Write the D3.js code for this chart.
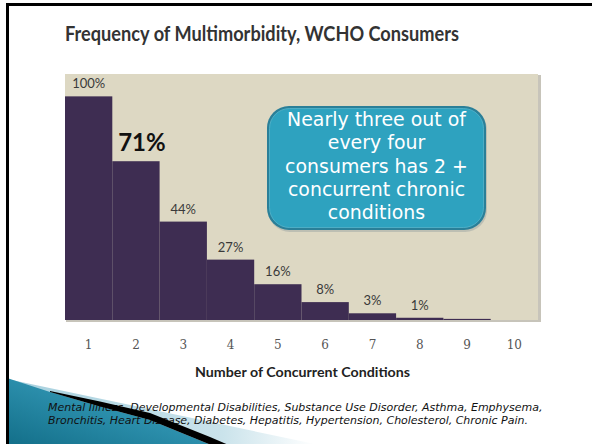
<!DOCTYPE html>
<html><head><meta charset="utf-8">
<script src="https://cdn.jsdelivr.net/npm/d3@7"></script>
<style>html,body{margin:0;padding:0;background:#fff;overflow:hidden}</style>
</head><body>
<svg id="chart" width="592" height="444"></svg>
<script>
// Share of consumers with at least N concurrent chronic conditions
const conditions = ["1", "2", "3", "4", "5", "6", "7", "8", "9", "10"];
const sharePct = [100, 71, 44, 27, 16, 8, 3, 1, 0.5, 0];
const shareLabels = ["100%", "71%", "44%", "27%", "16%", "8%", "3%", "1%", "", ""];
const titleText = "Frequency of Multimorbidity, WCHO Consumers";
const axisTitle = "Number of Concurrent Conditions";
const calloutLines = ["Nearly three out of", "every four", "consumers has 2 +", "concurrent chronic", "conditions"];
const footnoteLines = [
  "Mental Illness, Developmental Disabilities, Substance Use Disorder, Asthma, Emphysema,",
  "Bronchitis, Heart Disease, Diabetes, Hepatitis, Hypertension, Cholesterol, Chronic Pain."
];

const svg = d3.select("#chart");
const W = 592, H = 444;
const plot = {left: 65, right: 538, top: 74, bottom: 320};

// scale a text element's font size so it spans the given width
function fitWidth(sel, target) {
  const w = sel.node().getComputedTextLength();
  const fs = parseFloat(sel.attr("font-size"));
  const nfs = fs * target / w;
  sel.attr("font-size", nfs);
  return nfs;
}

const defs = svg.append("defs");
const tealGrad = defs.append("linearGradient").attr("id", "tealGrad")
  .attr("x1", "0").attr("y1", "1").attr("x2", "1").attr("y2", "0");
tealGrad.append("stop").attr("offset", "0").attr("stop-color", "#0f6a84");
tealGrad.append("stop").attr("offset", "0.5").attr("stop-color", "#2b8eab");
tealGrad.append("stop").attr("offset", "1").attr("stop-color", "#45a7c2");
const paleGrad = defs.append("linearGradient").attr("id", "paleGrad")
  .attr("x1", "0").attr("y1", "0").attr("x2", "1").attr("y2", "0");
paleGrad.append("stop").attr("offset", "0").attr("stop-color", "#a6d0de");
paleGrad.append("stop").attr("offset", "0.7").attr("stop-color", "#cae3eb");
paleGrad.append("stop").attr("offset", "1").attr("stop-color", "#ffffff");

// slide frame
svg.append("rect").attr("width", W).attr("height", H).attr("fill", "#fff");

// decorative swoosh, bottom left
const line = d3.line();
const wedgeTop = [[50, 391], [100, 401.5], [150, 413], [210, 437], [245, 452]];
const wedgeBottom = [[50, 392], [100, 406.5], [150, 420], [210, 444.5], [235, 455]];
svg.append("path").attr("d", line([[7, 379], [315, 444], [7, 444]]) + "Z")
  .attr("fill", "url(#paleGrad)");
svg.append("path").attr("d", line([[7, 378]].concat(wedgeBottom, [[7, 455]])) + "Z")
  .attr("fill", "url(#tealGrad)");

// title
svg.append("text").attr("x", 262).attr("y", 40.5)
  .attr("text-anchor", "middle").attr("font-family", "Lato").attr("font-weight", "bold")
  .attr("font-size", 20.5).attr("fill", "#333")
  .attr("textLength", 394).attr("lengthAdjust", "spacingAndGlyphs").text(titleText);

// plot background
svg.append("rect").attr("x", plot.left + 1).attr("y", plot.top + 1)
  .attr("width", plot.right - plot.left + 2).attr("height", plot.bottom - plot.top + 1)
  .attr("fill", "#c7c4ba");
svg.append("rect").attr("x", plot.left).attr("y", plot.top)
  .attr("width", plot.right - plot.left).attr("height", plot.bottom - plot.top)
  .attr("fill", "#ddd8c3");

const x = d3.scaleBand().domain(conditions).range([plot.left, plot.right]).padding(0);
const y = d3.scaleLinear().domain([0, 110]).range([plot.bottom, plot.top]);
const data = conditions.map((c, i) => ({c, v: sharePct[i], label: shareLabels[i]}));

svg.append("g").selectAll("rect").data(data).join("rect")
  .attr("x", d => x(d.c)).attr("y", d => y(d.v))
  .attr("width", x.bandwidth()).attr("height", d => plot.bottom - y(d.v))
  .attr("fill", "#3e2d52");

// value labels
svg.append("g").selectAll("text").data(data.filter(d => d.label)).join("text")
  .attr("x", d => x(d.c) + x.bandwidth() / 2 + (d.c === "2" ? 6 : 0))
  .attr("y", d => y(d.v) - (d.c === "2" ? 10 : 8))
  .attr("text-anchor", "middle").attr("font-family", "Lato")
  .attr("font-weight", d => d.c === "2" ? "bold" : "normal")
  .attr("font-size", d => d.c === "2" ? 24 : 13)
  .attr("fill", d => d.c === "2" ? "#111" : "#3a3a3a")
  .text(d => d.label);

// x axis
const xAxis = svg.append("g").attr("transform", `translate(0,${plot.bottom})`)
  .call(d3.axisBottom(x).tickSize(0).tickPadding(20));
xAxis.select(".domain").remove();
xAxis.selectAll("text").attr("font-family", "DejaVu Serif").attr("font-size", 12).attr("fill", "#555");

svg.append("text").attr("x", 302.5).attr("y", 376.5)
  .attr("text-anchor", "middle").attr("font-family", "Lato").attr("font-weight", "bold")
  .attr("font-size", 13.5).attr("fill", "#222")
  .attr("textLength", 215).attr("lengthAdjust", "spacingAndGlyphs").text(axisTitle);

// callout
const box = {x: 267, y: 106, w: 219, h: 124};
svg.append("rect").attr("x", box.x + 1).attr("y", box.y + 2).attr("width", box.w).attr("height", box.h)
  .attr("rx", 22).attr("fill", "#9ea6a3").attr("opacity", 0.5);
svg.append("rect").attr("x", box.x).attr("y", box.y).attr("width", box.w).attr("height", box.h)
  .attr("rx", 22).attr("fill", "#2a7f98");
svg.append("rect").attr("x", box.x + 2.5).attr("y", box.y + 2.5).attr("width", box.w - 5).attr("height", box.h - 5)
  .attr("rx", 20).attr("fill", "#2ea2bf").attr("stroke", "#55b5cc").attr("stroke-width", 0.8);
const cl = svg.append("g").selectAll("text").data(calloutLines).join("text")
  .attr("x", box.x + box.w / 2).attr("y", (d, i) => 126 + i * 23.3)
  .attr("text-anchor", "middle").attr("font-family", "DejaVu Sans")
  .attr("font-size", 17).attr("fill", "#fff").text(d => d);
const cfs = fitWidth(d3.select(cl.nodes()[0]), 179);
cl.attr("font-size", cfs);

// footnote
const fn = svg.append("g").selectAll("text").data(footnoteLines).join("text")
  .attr("x", 48).attr("y", (d, i) => 410.5 + i * 13)
  .attr("font-family", "DejaVu Sans").attr("font-style", "italic")
  .attr("font-size", 10).attr("fill", "#111").text(d => d);
const ffs = fitWidth(d3.select(fn.nodes()[0]), 495);
fn.attr("font-size", ffs);

// black wedge of the swoosh, over the footnote
svg.append("path").attr("d", line(wedgeTop.concat(wedgeBottom.slice().reverse())) + "Z")
  .attr("fill", "#000");

// frame border
svg.append("path").attr("d", line([[7.5, H], [7.5, 4.5], [W, 4.5]]))
  .attr("fill", "none").attr("stroke", "#000").attr("stroke-width", 3);
</script>
</body></html>
